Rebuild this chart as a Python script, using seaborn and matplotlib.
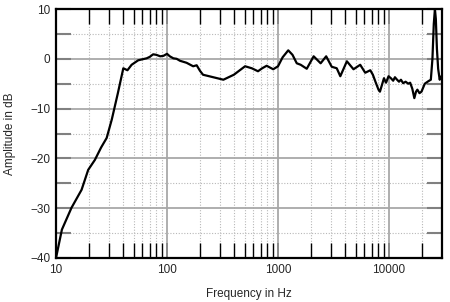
import numpy as np
import pandas as pd
import matplotlib
matplotlib.use("Agg")
import matplotlib.pyplot as plt
import seaborn as sns
from matplotlib.ticker import FixedLocator, NullFormatter, FixedFormatter

freq_hz = [10, 11.3, 13.8, 17, 19.5, 22.4, 25.5, 28.6, 31.8, 36, 40.4, 44, 48, 55,
           60, 65.6, 70, 75, 80, 87, 93, 100, 106, 114, 122, 131, 150, 172, 185, 198,
           211, 250, 322, 400, 505, 580, 660, 720, 790, 905, 1000, 1100, 1236, 1350,
           1475, 1600, 1815, 2094, 2420, 2715, 3046, 3380, 3640, 4170, 4785, 5500,
           6100, 6780, 7150, 7600, 8040, 8280, 8700, 9000, 9400, 9900, 10400, 10900,
           11300, 11700, 12300, 12800, 13400, 14100, 14900, 15500, 16200, 16900,
           17500, 18000, 18800, 19600, 21000, 22600, 23800, 24600, 25300, 25900,
           26400, 27000, 27700, 28600, 29200, 30000]
amp_db = [-40, -34.3, -29.9, -26.3, -22.3, -20.3, -17.8, -15.9, -12.2, -7.0, -1.9,
          -2.3, -1.2, -0.3, -0.1, 0.1, 0.4, 0.9, 0.8, 0.5, 0.6, 1.0, 0.5, 0.1, 0.0,
          -0.4, -0.8, -1.5, -1.3, -2.4, -3.2, -3.6, -4.2, -3.2, -1.5, -1.9, -2.5,
          -1.9, -1.4, -2.1, -1.5, 0.3, 1.7, 0.8, -0.9, -1.2, -2.0, 0.5, -0.9, 0.5,
          -1.6, -1.9, -3.5, -0.5, -2.1, -1.2, -2.8, -2.3, -3.2, -4.8, -6.2, -6.6,
          -5.0, -3.9, -4.8, -3.5, -3.9, -4.4, -3.7, -4.1, -4.6, -4.2, -4.9, -4.6,
          -5.0, -4.8, -6.0, -7.9, -6.6, -6.2, -6.9, -6.6, -5.0, -4.5, -4.2, 0.0,
          7.0, 10.0, 8.0, 2.0, -2.0, -4.2, -3.6, -3.5]

y_major = [-40, -30, -20, -10, 0, 10]
y_minor = [-35, -25, -15, -5, 5]
x_major = [10, 100, 1000, 10000]
x_major_labels = ["10", "100", "1000", "10000"]

sns.set_style("white")
plt.rcParams['font.family'] = ['Liberation Sans', 'DejaVu Sans']

fig = plt.figure(figsize=(4.5, 3.02), dpi=100)
ax = fig.add_axes([56/450, 1-258/302, (442-56)/450, (258-9)/302])

df = pd.DataFrame({"Frequency": freq_hz, "Amplitude": amp_db})
sns.lineplot(data=df, x="Frequency", y="Amplitude", ax=ax, color="black",
             linewidth=1.6, zorder=5)

ax.set_xscale("log")
ax.set_xlim(10, 30000)
ax.set_ylim(-40, 10)

minors = [m * d for d in [10, 100, 1000, 10000] for m in range(2, 10) if m * d < 30000]
ax.xaxis.set_major_locator(FixedLocator(x_major))
ax.xaxis.set_major_formatter(FixedFormatter(x_major_labels))
ax.xaxis.set_minor_locator(FixedLocator(minors))
ax.xaxis.set_minor_formatter(NullFormatter())
ax.yaxis.set_major_locator(FixedLocator(y_major))
ax.yaxis.set_minor_locator(FixedLocator(y_minor))

ax.grid(which="major", color="#a8a8a8", linewidth=1.3, linestyle="-", zorder=1)
ax.grid(which="minor", color="#b8b8b8", linewidth=0.8, linestyle=(0, (1, 1.5)), zorder=1)

ax.tick_params(axis="x", which="minor", direction="in", length=11, width=1.0,
               color="black", top=True, bottom=True)
ax.tick_params(axis="x", which="major", direction="in", length=11, width=1.3,
               color="#888888", top=True, bottom=True, labelsize=8.5, pad=4)
ax.tick_params(axis="y", which="both", direction="in", length=11, width=1.5,
               color="#808080", left=True, right=True)
ax.tick_params(axis="y", which="major", labelsize=8.5, pad=4)

for s in ax.spines.values():
    s.set_color("black")
    s.set_linewidth(1.6)
    s.set_zorder(6)

ax.set_xlabel("Frequency in Hz", fontsize=8.5, labelpad=9)
ax.set_ylabel("Amplitude in dB", fontsize=8.5, labelpad=10)

fig.savefig("out.png", dpi=100)
